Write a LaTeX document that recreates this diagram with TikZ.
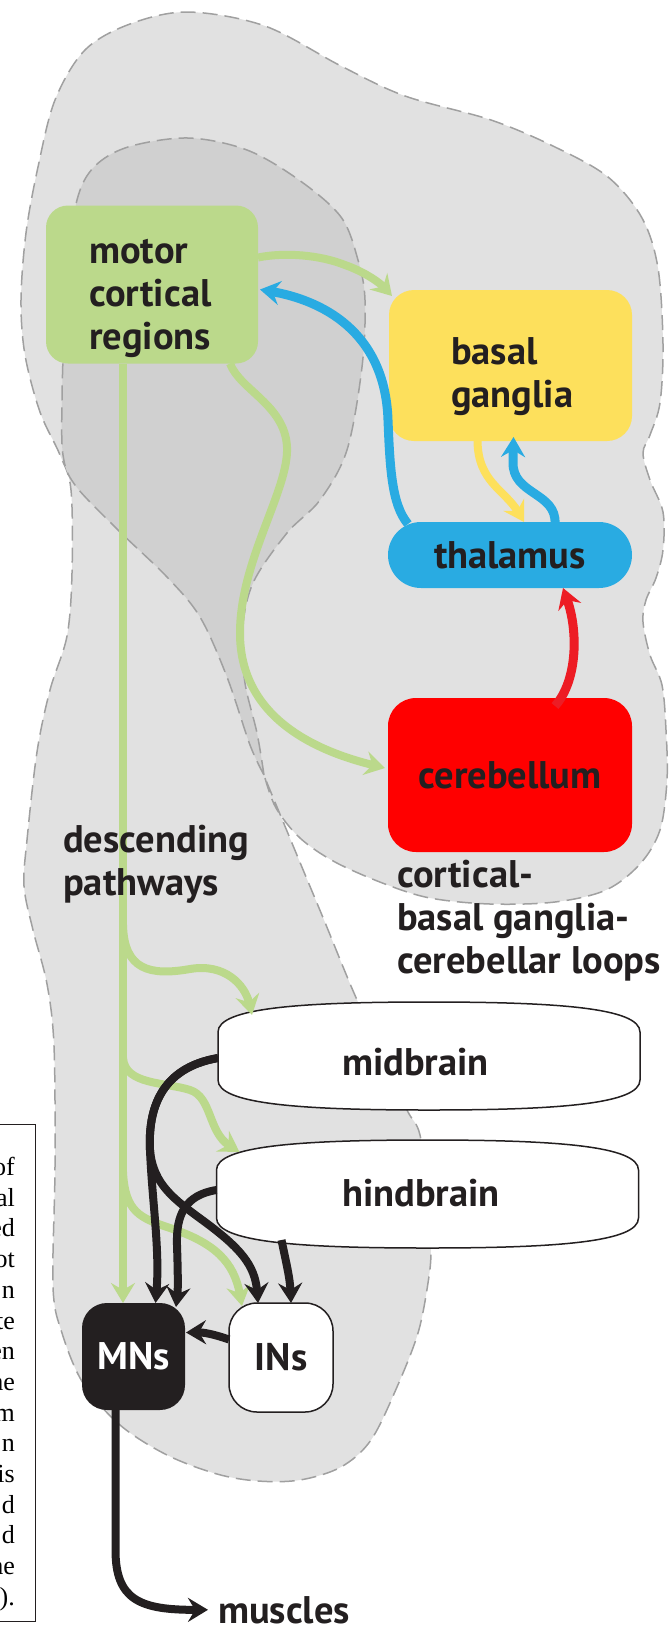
\documentclass[tikz,border=0pt]{standalone}
\usepackage{fontspec}
\newfontfamily\labelfont{PT Sans}
\newfontfamily\notefont{Liberation Serif}
\usetikzlibrary{arrows.meta,positioning,calc}

\definecolor{cortexgreen}{RGB}{187,217,139}
\definecolor{gangliayellow}{RGB}{253,224,92}
\definecolor{thalblue}{RGB}{41,171,226}
\definecolor{cerebred}{RGB}{255,0,0}
\definecolor{looprd}{RGB}{237,28,36}
\definecolor{inkblack}{RGB}{35,31,32}
\definecolor{shadelight}{RGB}{225,225,225}
\definecolor{shadedark}{RGB}{208,208,208}
\definecolor{dashgray}{RGB}{160,160,160}

\tikzset{
  shadearea/.style={draw=dashgray, line width=1.5pt, dash pattern=on 15pt off 7pt},
  lbl/.style={font=\labelfont\bfseries\fontsize{38.5}{43}\selectfont, text=inkblack, inner sep=0pt, align=left},
  brainbox/.style={rounded corners=#1, inner sep=0pt, outer sep=0pt, font=\labelfont\bfseries\fontsize{38.5}{43}\selectfont, text=inkblack},
  stemnode/.style={minimum width=422pt, minimum height=108pt, inner sep=0pt, outer sep=0pt},
  stemline/.style={draw=inkblack, line width=1.5pt, fill=white},
  tract/.style={line width=8pt, ->},
  notebox/.style={draw=inkblack, line width=1.2pt, fill=white, minimum width=80pt, minimum height=497pt},
  notetext/.style={font=\notefont\fontsize{26}{30.7}\selectfont, align=right, inner sep=0pt}
}

% outline of a brainstem level, drawn round an empty node
\newcommand{\stemoutline}[1]{%
  \draw[stemline] ($(#1.west)+(0,-24)$) .. controls +(0,-24) and +(-129,0) .. (#1.north)
    .. controls +(129,0) and +(0,-24) .. ($(#1.east)+(0,-24)$) -- ($(#1.east)+(0,24)$)
    .. controls +(0,24) and +(129,0) .. (#1.south)
    .. controls +(-129,0) and +(0,24) .. ($(#1.west)+(0,24)$) -- cycle;}

\begin{document}
\begin{tikzpicture}[x=1pt, y=-1pt, >={Stealth[length=20pt,width=24pt,inset=7pt]}]
  \useasboundingbox (0,0) rectangle (669,1631);

  % shaded territories
  \path[shadearea, fill=shadelight] plot[smooth, tension=0.55] coordinates {
    (265,778) (276,808) (300,838) (335,862) (385,884) (430,898) (490,904) (555,902)
    (606,890) (640,864) (660,830) (667,780) (666,730) (662,685) (650,655) (643,622)
    (646,600) (656,578) (663,550) (663,512) (650,480) (643,453) (650,435) (660,403)
    (663,344) (658,268) (642,218) (608,177) (555,147) (491,120) (405,96) (341,66)
    (265,26) (188,12) (130,24) (85,50) (55,100) (38,167) (26,233) (21,300) (25,355)
    (40,412) (60,455) (71,490) (72,573) (67,636) (50,690) (37,752) (27,840) (24,886)
    (33,930) (47,984) (54,1046) (55,1167) (53,1287) (62,1333) (83,1383) (120,1425)
    (167,1455) (217,1474) (258,1481) (300,1480) (341,1467) (371,1440) (397,1387)
    (418,1333) (428,1283) (431,1250) (428,1200) (420,1135) (407,1110) (385,1060)
    (354,993) (324,920) (299,860) (265,778)} -- cycle;
  \path[shadearea, fill=shadedark] plot[smooth, tension=0.55] coordinates {
    (264,775) (257,733) (245,683) (242,633) (253,583) (287,533) (320,500) (347,450)
    (362,367) (365,300) (358,260) (341,217) (299,180) (247,150) (188,138) (128,147)
    (94,167) (77,200) (68,267) (64,333) (62,400) (63,455) (75,485) (117,529)
    (167,577) (200,617) (227,677) (250,745) (264,775)} -- cycle;

  % clipped text box at the left margin
  \node[notebox, anchor=north east] (note) at (36,1124) {};
  \node[notetext, anchor=north east] (notetxt) at (15,1157)
    {of\\al\\ed\\ot\\n\\te\\en\\he\\m\\n\\is\\d\\d\\he\\).};

  % forebrain and loop nodes
  \node[brainbox=22pt, fill=cortexgreen, minimum width=212pt, minimum height=158pt] (motor) at (152,284.5) {};
  \node[lbl, below right=33pt and 43pt of motor.north west] (motorlbl) {motor\\cortical\\regions};
  \node[brainbox=25pt, fill=gangliayellow, minimum width=243pt, minimum height=151pt] (basal) at (510.5,365.5) {};
  \node[lbl, below right=47pt and 62pt of basal.north west] (basallbl) {basal\\ganglia};
  \node[brainbox=33pt, fill=thalblue, minimum width=244pt, minimum height=66pt] (thal) at (510,555) {thalamus};
  \node[brainbox=28pt, fill=cerebred, minimum width=244pt, minimum height=154pt] (cereb) at (510,775) {cerebellum};

  % brainstem and spinal nodes
  \node[stemnode] (mid) at (429,1056) {};
  \stemoutline{mid}
  \node[lbl, anchor=base west] (midlbl) at (342,1075) {midbrain};
  \node[stemnode] (hind) at (427.5,1194) {};
  \stemoutline{hind}
  \node[lbl, anchor=base west] (hindlbl) at (342,1206) {hindbrain};
  \node[brainbox=25pt, fill=inkblack, text=white, minimum width=103pt, minimum height=107pt] (mns) at (133.5,1356.5) {MNs};
  \node[brainbox=28pt, draw=inkblack, line width=1.5pt, fill=white, minimum width=104pt, minimum height=109pt] (ins) at (281,1357.5) {INs};
  \node[lbl, anchor=base west] (musc) at (218,1623) {muscles};

  \coordinate (trunk) at (123,900);
  \coordinate (fork1) at (123,925);
  \coordinate (fork2) at (123,1058);
  \coordinate (fork3) at (123,1172);

  % descending pathways
  \draw[tract, cortexgreen] (motor.south -| trunk) -- (mns.north -| trunk);
  \draw[tract, cortexgreen] (fork1) .. controls (124,970) and (150,976) .. (190,969)
    .. controls (225,963) and (245,985) .. ($(mid.north west)+(34,13)$);
  \draw[tract, cortexgreen] (fork2) .. controls (125,1085) and (165,1082) .. (190,1090)
    .. controls (212,1097) and (208,1132) .. ($(hind.north west)+(23,12)$);
  \draw[tract, cortexgreen] (fork3) .. controls (125,1212) and (140,1218) .. (170,1228)
    .. controls (215,1243) and (234,1262) .. ($(ins.north west)+(13,3)$);

  % loops
  \draw[tract, cortexgreen] ($(motor.north east)+(0,52)$) .. controls (285,252) and (320,255) .. (345,265)
    .. controls (365,272) and (380,283) .. ($(basal.north west)+(3,6)$);
  \draw[tract, cortexgreen] ($(motor.south east)+(-28,0)$) .. controls (240,390) and (285,405) .. (287,447)
    .. controls (289,490) and (240,560) .. (240,633)
    .. controls (240,720) and (320,752) .. ($(cereb.west)+(-3,-7)$);
  \draw[tract, thalblue, line width=9pt] ($(thal.north west)+(20,2)$) .. controls (392,505) and (390,470) .. (388,420)
    .. controls (385,330) and (320,300) .. ($(motor.east)+(2,5)$);
  \draw[tract, thalblue, line width=9pt] ($(thal.north)+(45,2)$) .. controls (557,492) and (512,495) .. (513,462)
    -- ($(basal.south)+(3,-4)$);
  \draw[tract, gangliayellow] ($(basal.south)+(-33,0)$) .. controls (478,482) and (505,490) .. ($(thal.north)+(14,0)$);
  \draw[tract, looprd, line width=9pt] ($(cereb.north)+(45,8)$) .. controls (578,680) and (578,630) .. ($(thal.south)+(53,0)$);

  % brainstem outputs
  \draw[tract, inkblack] ($(mid.west)+(0,2)$) .. controls (160,1068) and (148,1110) .. (150,1150)
    .. controls (152,1200) and (160,1250) .. ($(mns.north)+(22,0)$);
  \draw[tract, inkblack] ($(mid.west)+(0,2)$) .. controls (160,1068) and (148,1110) .. (150,1150)
    .. controls (153,1185) and (175,1200) .. (205,1222)
    .. controls (240,1248) and (255,1265) .. ($(ins.north west)+(29,0)$);
  \draw[tract, inkblack] ($(hind.west)+(0,-4)$) .. controls (185,1195) and (176,1215) .. (177,1245)
    .. controls (178,1275) and (178,1290) .. ($(mns.north east)+(-9,4)$);
  \draw[tract, inkblack] ($(hind.south)+(-146,-8)$) .. controls (286,1262) and (290,1278) .. ($(ins.north)+(10,0)$);
  \draw[tract, inkblack] ($(ins.west)+(0,-18)$) to[bend right=10] ($(mns.east)+(1,-24)$);
  \draw[tract, inkblack] ($(mns.south)+(-18,0)$) -- (115.5,1550)
    .. controls (115.5,1600) and (140,1610) .. ($(musc.west)+(-10,0)$);

  % free labels
  \node[lbl, anchor=north west] (desc) at (63,825) {descending\\pathways};
  \node[lbl, anchor=north west] (loops) at (397,860) {cortical-\\basal ganglia-\\cerebellar loops};
\end{tikzpicture}
\end{document}
